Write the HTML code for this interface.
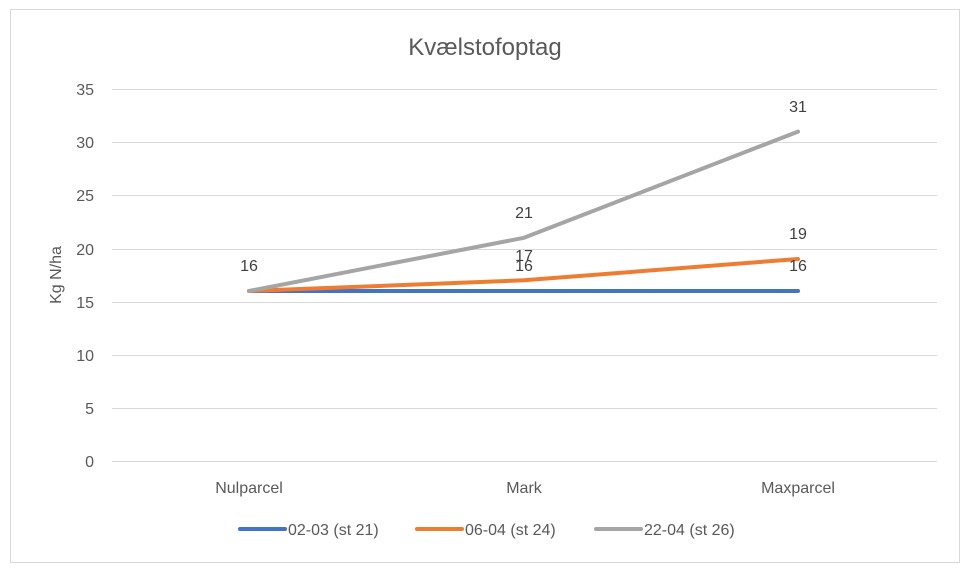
<!DOCTYPE html>
<html><head><meta charset="utf-8"><style>
body{margin:0;background:#fff;}
svg text{font-family:"Liberation Sans",sans-serif;}
</style></head><body>
<svg width="970" height="571" xmlns="http://www.w3.org/2000/svg">
<rect x="0" y="0" width="970" height="571" fill="#fff"/>
<rect x="10.5" y="9.5" width="949" height="553" fill="#fff" stroke="#d9d9d9" stroke-width="1"/>
<text x="485" y="55" font-size="24" fill="#595959" text-anchor="middle">Kvælstofoptag</text>
<g stroke="#d9d9d9" stroke-width="1">
<line x1="112" x2="937" y1="89.5" y2="89.5"/>
<line x1="112" x2="937" y1="142.5" y2="142.5"/>
<line x1="112" x2="937" y1="195.5" y2="195.5"/>
<line x1="112" x2="937" y1="249.5" y2="249.5"/>
<line x1="112" x2="937" y1="302.5" y2="302.5"/>
<line x1="112" x2="937" y1="355.5" y2="355.5"/>
<line x1="112" x2="937" y1="408.5" y2="408.5"/>
<line x1="112" x2="937" y1="461.5" y2="461.5"/>
</g>
<g font-size="16" fill="#595959" text-anchor="end">
<text x="94" y="95">35</text><text x="94" y="148">30</text><text x="94" y="201">25</text>
<text x="94" y="255">20</text><text x="94" y="308">15</text><text x="94" y="361">10</text>
<text x="94" y="414">5</text><text x="94" y="467">0</text>
</g>
<text transform="translate(61,275) rotate(-90)" font-size="16" fill="#595959" text-anchor="middle">Kg N/ha</text>
<g font-size="16" fill="#595959" text-anchor="middle">
<text x="249" y="493">Nulparcel</text><text x="524" y="493">Mark</text><text x="798" y="493">Maxparcel</text>
</g>
<g fill="none" stroke-width="4" stroke-linecap="round" stroke-linejoin="round">
<polyline points="249,291 524,291 798,291" stroke="#4472c4"/>
<polyline points="249,291 524,280.3 798,259" stroke="#ed7d31"/>
<polyline points="249,291 524,237.8 798,131.6" stroke="#a5a5a5"/>
</g>
<g font-size="16" fill="#404040" text-anchor="middle">
<text x="249" y="271">16</text>
<text x="524" y="261">17</text><text x="524" y="271">16</text><text x="524" y="218">21</text>
<text x="798" y="239">19</text><text x="798" y="271">16</text><text x="798" y="112">31</text>
</g>
<g stroke-width="4" stroke-linecap="round">
<line x1="240" x2="285" y1="529" y2="529" stroke="#4472c4"/>
<line x1="417" x2="462" y1="529" y2="529" stroke="#ed7d31"/>
<line x1="596" x2="641" y1="529" y2="529" stroke="#a5a5a5"/>
</g>
<g font-size="16" fill="#595959">
<text x="288" y="535">02-03 (st 21)</text>
<text x="465" y="535">06-04 (st 24)</text>
<text x="644" y="535">22-04 (st 26)</text>
</g>
</svg>
</body></html>
